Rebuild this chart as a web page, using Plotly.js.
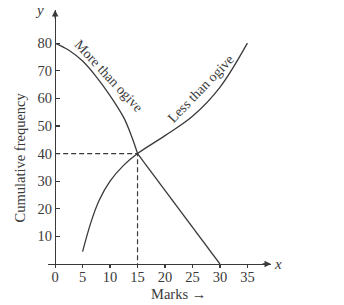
<!DOCTYPE html>
<html>
<head>
<meta charset="utf-8">
<script src="https://cdn.plot.ly/plotly-3.0.1.min.js"></script>
<style>html,body{margin:0;padding:0;background:#fff;}#chart{width:344px;height:305px;}</style>
</head>
<body>
<div id="chart"></div>
<script>
// "More than" ogive: curved part (0..15) and straight part (15..30)
var moreCurveX = [0, 2.5, 5, 7.5, 10, 12.5, 14, 15];
var moreCurveY = [80, 77.4, 73.5, 67.8, 61, 53, 45.8, 40];
var moreLineX = [15, 20, 25, 30];
var moreLineY = [40, 26.7, 13.3, 0];
// "Less than" ogive
var lessX = [5, 6.5, 8, 10, 12.5, 15, 20, 25, 30, 35];
var lessY = [4.5, 15, 23, 30, 35.8, 40, 46.5, 53.5, 64, 80];
// Median point (intersection)
var medianX = 15;
var medianY = 40;
// Ticks
var xTicks = [0, 5, 10, 15, 20, 25, 30, 35];
var yTicks = [10, 20, 30, 40, 50, 60, 70, 80];

var ink = '#3a3a3a';
var font = 'Liberation Serif, Times New Roman, serif';

var traces = [
  {x: moreCurveX, y: moreCurveY, mode: 'lines', line: {color: ink, width: 1.3, shape: 'spline', smoothing: 1}, hoverinfo: 'skip'},
  {x: moreLineX, y: moreLineY, mode: 'lines', line: {color: ink, width: 1.3}, hoverinfo: 'skip'},
  {x: lessX, y: lessY, mode: 'lines', line: {color: ink, width: 1.3, shape: 'spline', smoothing: 1}, hoverinfo: 'skip'},
  {x: [0, medianX, medianX], y: [medianY, medianY, 0], mode: 'lines', line: {color: ink, width: 1.2, dash: '5px,3px'}, hoverinfo: 'skip'}
];

var xr = [-1.3, 39.3];
var layout = {
  width: 344, height: 305,
  margin: {l: 48, r: 73, t: 10, b: 41},
  paper_bgcolor: '#fff', plot_bgcolor: '#fff',
  showlegend: false,
  font: {family: font, color: ink, size: 14},
  xaxis: {
    range: xr, showgrid: false, zeroline: false,
    showline: true, linecolor: ink, linewidth: 1.3,
    tickvals: xTicks, ticktext: xTicks.map(String),
    ticks: 'outside', ticklen: 3, tickcolor: ink, tickwidth: 1.2,
    ticklabelstandoff: -4,
    tickfont: {family: font, size: 14.5, color: ink}
  },
  xaxis2: {
    range: xr, overlaying: 'x', anchor: 'y', showgrid: false, zeroline: false,
    showline: false, tickvals: xTicks, showticklabels: false,
    ticks: 'inside', ticklen: 3, tickcolor: ink, tickwidth: 1.2
  },
  yaxis: {
    range: [0, 92], showgrid: false, zeroline: false,
    anchor: 'free', position: 7 / 223,
    showline: true, linecolor: ink, linewidth: 1.3,
    tickvals: yTicks, ticktext: yTicks.map(String),
    ticks: 'inside', ticklen: 4, tickcolor: ink, tickwidth: 1.2,
    tickfont: {family: font, size: 14.5, color: ink}
  },
  annotations: [
    {x: 0, y: 92, ax: 0, ay: 10, xref: 'x', yref: 'y', showarrow: true, arrowhead: 2, arrowsize: 1, arrowwidth: 1.3, arrowcolor: ink, text: ''},
    {x: 39.3, y: 0, ax: -10, ay: 0, xref: 'x', yref: 'y', showarrow: true, arrowhead: 2, arrowsize: 1, arrowwidth: 1.3, arrowcolor: ink, text: ''},
    {x: -0.04, y: 1.0, xref: 'paper', yref: 'paper', text: '<i>y</i>', showarrow: false, font: {family: font, size: 15, color: ink}, xanchor: 'center', yanchor: 'middle'},
    {x: 1.03, y: 0.0, xref: 'paper', yref: 'paper', text: '<i>x</i>', showarrow: false, font: {family: font, size: 15, color: ink}, xanchor: 'center', yanchor: 'middle'},
    {x: -0.125, y: 0.42, xref: 'paper', yref: 'paper', text: 'Cumulative frequency', textangle: -90, showarrow: false, font: {family: font, size: 14.5, color: ink}, xanchor: 'center', yanchor: 'middle'},
    {x: 0.585, y: -0.0827, xref: 'paper', yref: 'paper', text: 'Marks \u2192', showarrow: false, font: {family: font, size: 14.5, color: ink}, xanchor: 'center', yanchor: 'top', borderpad: 0},
    {x: 9.8, y: 67.8, xref: 'x', yref: 'y', text: 'More than ogive', textangle: 47, showarrow: false, font: {family: font, size: 14, color: ink}, xanchor: 'center', yanchor: 'middle'},
    {x: 26.6, y: 63.5, xref: 'x', yref: 'y', text: 'Less than ogive', textangle: -46, showarrow: false, font: {family: font, size: 14, color: ink}, xanchor: 'center', yanchor: 'middle'}
  ]
};

Plotly.newPlot('chart', traces, layout, {displayModeBar: false, staticPlot: true});
</script>
</body>
</html>
